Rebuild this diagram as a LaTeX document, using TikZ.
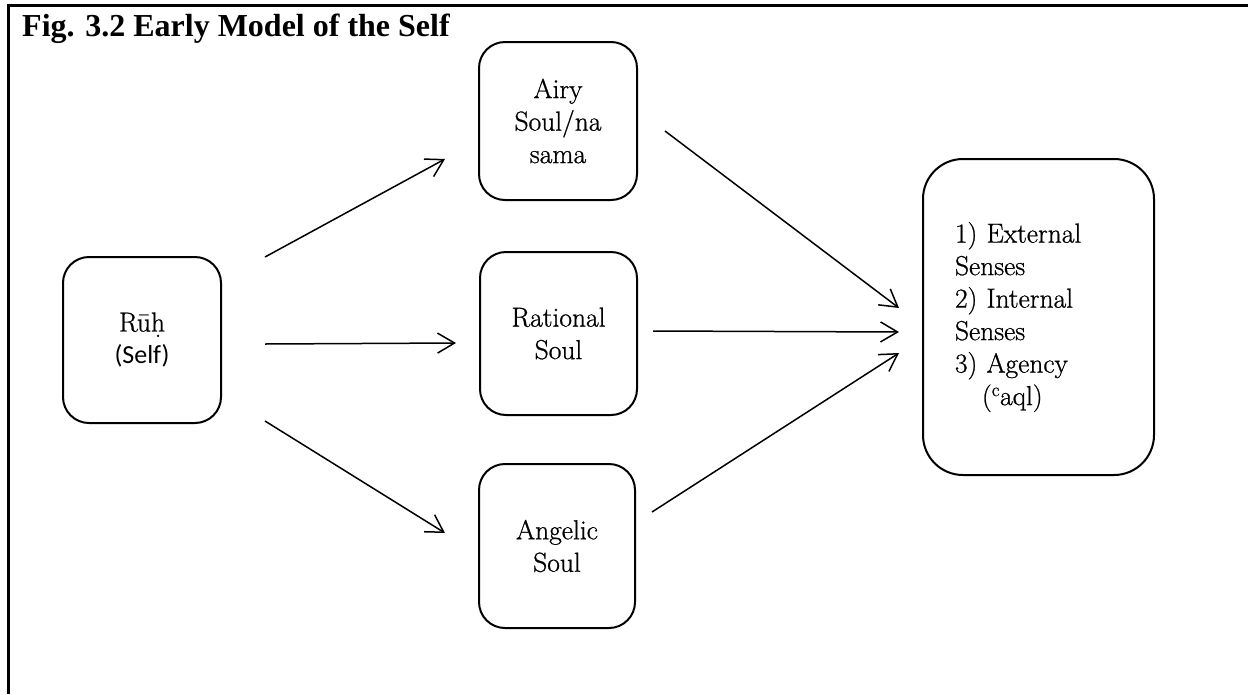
\documentclass[tikz,border=0pt]{standalone}
\usepackage{fontspec}
\newfontfamily\titlefont{Liberation Serif}
\newfontfamily\selffont{Carlito}
\newfontfamily\boxfont{Latin Modern Roman}[FakeBold=0.8]
\usetikzlibrary{arrows.meta}
\begin{document}
\begin{tikzpicture}[x=1pt,y=-1pt,
  box/.style={draw, line width=2pt, rounded corners=26pt, align=center,
    font=\boxfont\fontsize{27.5}{32.5}\selectfont, inner sep=0pt},
  arr/.style={line width=1.5pt, -{Straight Barb[length=17pt,width=20pt,line width=1.5pt]}},
  frame/.style={line width=3pt}]
\useasboundingbox (0,0) rectangle (1248,694);
\coordinate (fb) at (8,694);
\coordinate (fc) at (8,5);
\coordinate (fr) at (1248,5);
\draw[frame] (fb) -- (fc) -- (fr);
\node[anchor=base west, inner sep=0pt, font=\titlefont\bfseries\fontsize{32}{38}\selectfont] (title) at (22,36) {Fig. 3.2 Early Model of the Self};

\node[box, minimum width=158pt, minimum height=166pt] (ruh) at (142,340) {Rū\d{h}\\{\selffont\fontsize{26}{32}\selectfont (Self)}};
\node[box, minimum width=158pt, minimum height=158pt] (airy) at (558,121) {\raisebox{-6pt}{\parbox{150pt}{\centering Airy\\Soul/na\\sama}}};
\node[box, minimum width=157pt, minimum height=163pt] (rat) at (558.5,333.5) {Rational\\Soul};
\node[box, minimum width=156pt, minimum height=164pt] (ang) at (557,546) {Angelic\\Soul};
\node[box, rounded corners=40pt, minimum width=231pt, minimum height=316pt, text width=167pt, align=left] (res) at (1038.5,317)
  {1) External\\Senses\\2) Internal\\Senses\\3) Agency\\\hspace*{27pt}(\textsuperscript{c}aql)};

\coordinate (a1s) at (265,257); \coordinate (a1e) at (445,159);
\coordinate (a2s) at (265,344); \coordinate (a2e) at (456,343);
\coordinate (a3s) at (265,421); \coordinate (a3e) at (445,533);
\coordinate (b1s) at (665,131); \coordinate (b1e) at (899,308);
\coordinate (b2s) at (653,331); \coordinate (b2e) at (899,332);
\coordinate (b3s) at (652,512); \coordinate (b3e) at (899,353);
\draw[arr] (a1s) -- (a1e);
\draw[arr] (a2s) -- (a2e);
\draw[arr] (a3s) -- (a3e);
\draw[arr] (b1s) -- (b1e);
\draw[arr] (b2s) -- (b2e);
\draw[arr] (b3s) -- (b3e);
\end{tikzpicture}
\end{document}
